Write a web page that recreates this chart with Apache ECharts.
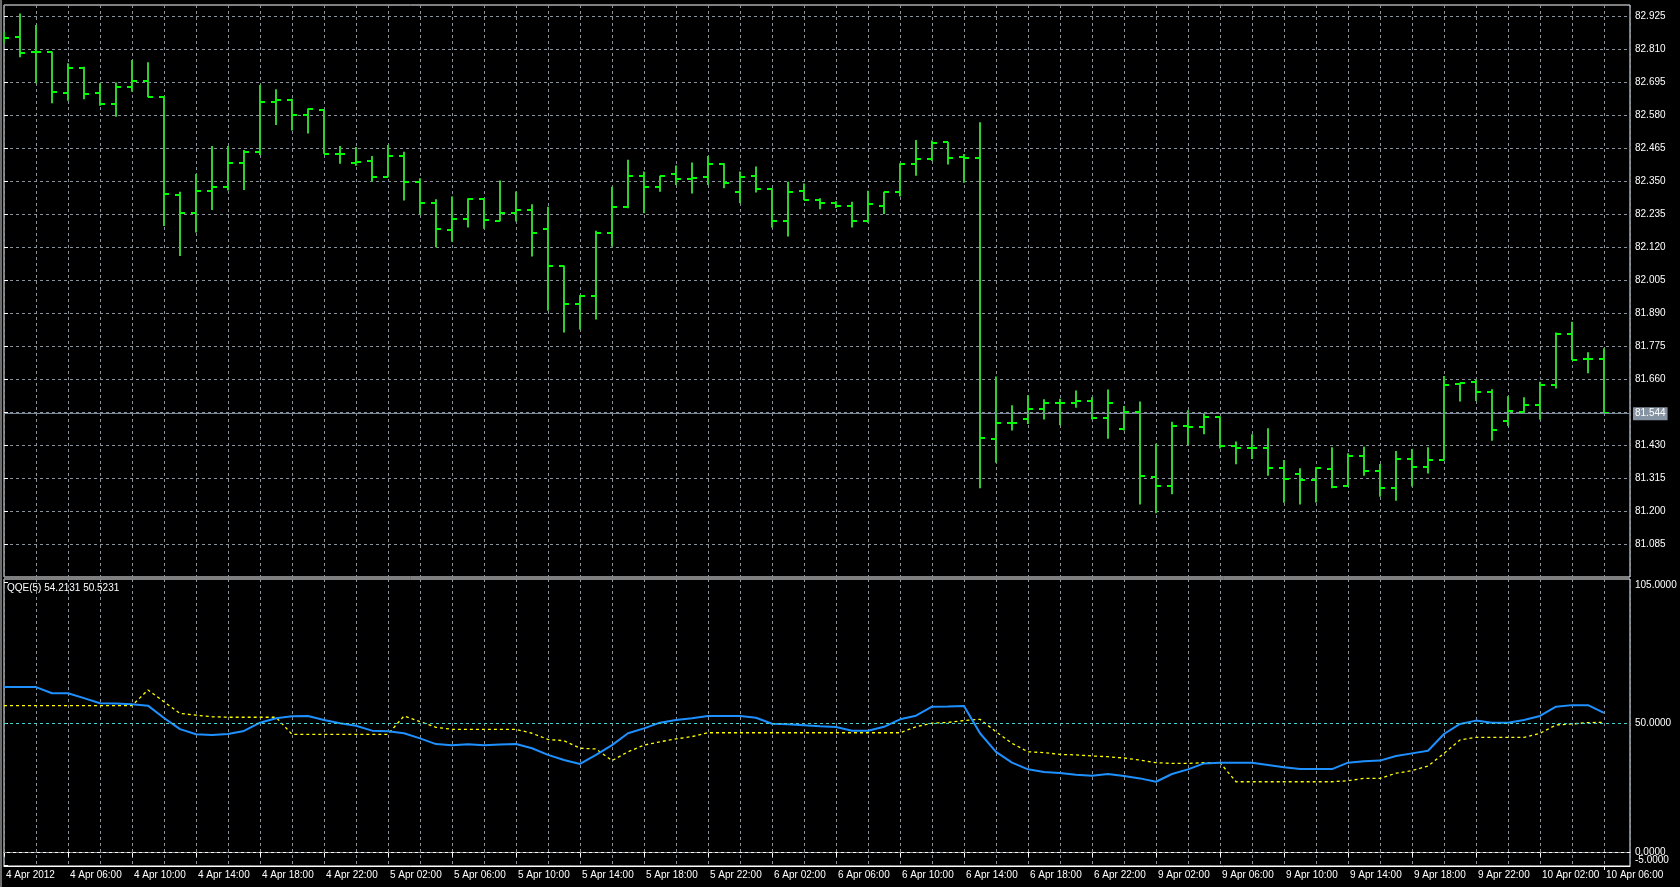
<!DOCTYPE html>
<html><head><meta charset="utf-8">
<script src="https://cdn.jsdelivr.net/npm/echarts@6/dist/echarts.min.js"></script>
<style>html,body{margin:0;padding:0;background:#000;overflow:hidden}#c{width:1680px;height:887px}</style>
</head><body><div id="c"></div><script>
// ---- data ----
const xLabels = ['4 Apr 2012','4 Apr 06:00','4 Apr 10:00','4 Apr 14:00','4 Apr 18:00','4 Apr 22:00',
  '5 Apr 02:00','5 Apr 06:00','5 Apr 10:00','5 Apr 14:00','5 Apr 18:00','5 Apr 22:00',
  '6 Apr 02:00','6 Apr 06:00','6 Apr 10:00','6 Apr 14:00','6 Apr 18:00','6 Apr 22:00',
  '9 Apr 02:00','9 Apr 06:00','9 Apr 10:00','9 Apr 14:00','9 Apr 18:00','9 Apr 22:00',
  '10 Apr 02:00','10 Apr 06:00'];
const barsPerLabel = 4;
const priceTicks = [82.925,82.810,82.695,82.580,82.465,82.350,82.235,82.120,82.005,81.890,81.775,81.660,81.545,81.430,81.315,81.200,81.085];
const priceLabels = [82.925,82.810,82.695,82.580,82.465,82.350,82.235,82.120,82.005,81.890,81.775,81.660,81.430,81.315,81.200,81.085];
const qqeTicks = [105, 50, 0];
const qqeLowTick = [-5];
const bidPrice = 81.544;

const open = [82.850,82.853,82.798,82.801,82.658,82.745,82.657,82.619,82.679,82.700,
  82.644,82.302,82.240,82.317,82.331,82.414,82.452,82.627,82.632,82.580,
  82.596,82.444,82.414,82.421,82.365,82.437,82.348,82.273,82.180,82.219,
  82.289,82.212,82.240,82.249,82.182,82.054,81.922,81.951,82.170,82.261,
  82.369,82.331,82.374,82.357,82.365,82.410,82.313,82.369,82.322,82.212,
  82.317,82.284,82.273,82.263,82.212,82.263,82.313,82.408,82.427,82.485,
  82.435,82.432,81.453,81.509,81.520,81.557,81.578,81.578,81.585,81.526,
  81.488,81.546,81.321,81.289,81.497,81.495,81.529,81.428,81.421,81.421,
  81.352,81.329,81.309,81.347,81.289,81.393,81.341,81.282,81.382,81.355,
  81.379,81.643,81.651,81.616,81.516,81.545,81.570,81.640,81.816,81.729,
  81.730];
const high = [82.870,82.934,82.894,82.801,82.760,82.748,82.691,82.693,82.772,82.764,
  82.646,82.313,82.375,82.472,82.472,82.458,82.685,82.670,82.637,82.603,
  82.598,82.472,82.469,82.437,82.476,82.452,82.360,82.287,82.296,82.290,
  82.291,82.352,82.314,82.269,82.261,82.056,81.953,82.177,82.330,82.424,
  82.383,82.369,82.404,82.415,82.437,82.412,82.383,82.401,82.325,82.348,
  82.342,82.290,82.280,82.278,82.316,82.313,82.412,82.493,82.491,82.487,
  82.444,82.555,81.669,81.569,81.604,81.590,81.592,81.621,81.597,81.624,
  81.567,81.582,81.435,81.512,81.552,81.539,81.531,81.443,81.468,81.489,
  81.379,81.350,81.353,81.423,81.402,81.425,81.365,81.410,81.417,81.423,
  81.671,81.648,81.660,81.625,81.601,81.597,81.651,81.823,81.860,81.754,
  81.768];
const low = [82.830,82.781,82.691,82.621,82.630,82.635,82.612,82.574,82.661,82.642,
  82.194,82.089,82.171,82.249,82.317,82.319,82.441,82.545,82.526,82.516,
  82.445,82.410,82.403,82.348,82.363,82.282,82.232,82.120,82.139,82.188,
  82.184,82.210,82.209,82.087,81.898,81.823,81.833,81.868,82.122,82.255,
  82.238,82.313,82.336,82.307,82.336,82.325,82.273,82.310,82.188,82.157,
  82.284,82.252,82.256,82.188,82.205,82.235,82.296,82.369,82.420,82.408,
  82.344,81.280,81.369,81.481,81.504,81.520,81.500,81.561,81.520,81.453,
  81.481,81.224,81.193,81.259,81.431,81.468,81.419,81.364,81.382,81.324,
  81.230,81.224,81.231,81.280,81.286,81.324,81.251,81.237,81.286,81.332,
  81.377,81.582,81.584,81.446,81.497,81.543,81.520,81.628,81.727,81.681,
  81.541];
const close = [82.849,82.797,82.801,82.661,82.745,82.653,82.619,82.679,82.700,82.644,
  82.305,82.240,82.317,82.331,82.414,82.452,82.627,82.632,82.580,82.600,
  82.444,82.444,82.418,82.365,82.437,82.348,82.273,82.182,82.219,82.289,
  82.214,82.240,82.249,82.170,82.054,81.922,81.951,82.170,82.261,82.369,
  82.331,82.369,82.357,82.362,82.410,82.344,82.365,82.322,82.212,82.313,
  82.284,82.273,82.263,82.212,82.269,82.313,82.408,82.427,82.484,82.432,
  82.432,81.456,81.509,81.509,81.557,81.578,81.578,81.585,81.526,81.578,
  81.546,81.324,81.289,81.497,81.495,81.529,81.428,81.421,81.421,81.352,
  81.311,81.309,81.350,81.283,81.393,81.341,81.282,81.382,81.355,81.379,
  81.640,81.646,81.616,81.483,81.550,81.570,81.640,81.816,81.727,81.729,
  81.544];
const qqe = [64.2,64.2,64.2,61.8,61.8,59.9,57.9,57.8,57.5,57.0,
  52.2,47.9,45.9,45.6,46.0,47.2,50.4,52.1,52.9,53.0,
  51.4,50.2,49.2,47.3,47.1,46.3,44.3,42.1,41.6,42.0,
  41.6,41.9,42.1,40.5,37.9,35.9,34.4,37.9,41.7,46.3,
  48.2,50.4,51.4,52.1,53.0,53.0,53.0,52.3,50.0,49.8,
  49.4,49.0,48.7,47.3,47.3,48.8,51.7,53.1,56.6,56.7,
  56.9,46.3,39.1,34.9,32.3,31.3,30.9,30.2,29.8,30.5,
  29.7,28.8,27.5,30.5,32.3,34.6,34.9,34.9,34.9,34.0,
  33.1,32.4,32.4,32.4,34.9,35.4,35.7,37.5,38.5,39.5,
  46.0,49.9,51.2,50.4,50.4,51.4,53.0,56.6,57.2,57.2,
  54.2131];
const signal = [57.0,57.0,57.0,57.0,57.0,57.0,57.0,57.0,57.0,63.1,
  58.5,54.0,53.3,52.7,52.5,52.5,52.5,52.5,45.9,45.9,
  45.9,45.9,45.9,45.9,45.9,53.0,50.8,48.6,47.8,47.8,
  47.8,47.8,47.8,46.3,43.9,43.4,40.5,40.2,35.7,39.1,
  41.7,43.0,44.1,45.0,46.5,46.5,46.5,46.5,46.5,46.5,
  46.5,46.5,46.5,46.5,46.5,46.5,46.5,48.8,50.2,50.5,
  51.2,51.7,46.9,42.4,39.1,38.8,38.1,37.9,37.5,37.2,
  36.7,35.9,34.9,34.6,34.6,34.9,34.9,27.5,27.5,27.5,
  27.5,27.5,27.5,27.5,27.9,28.8,28.8,30.8,31.8,33.6,
  38.5,43.7,44.7,44.7,44.7,44.7,46.3,49.5,49.9,50.4,
  50.5231];

// ---- build ----
const FONT = "'Liberation Sans',Arial,sans-serif";
const FS = 10;
const GRIDCOL = '#8a929c';
const ohlc = open.map((o, i) => [i, o, high[i], low[i], close[i]]);
const qqeData = qqe.map((v, i) => [i, v]);
const sigData = signal.map((v, i) => [i, v]);
const xMax = 101.625;
const labelPos = xLabels.map((_, i) => i * barsPerLabel);
const lastLabelPos = labelPos.slice(-1);
const mainLabelPos = labelPos.slice(0, -1);
const txt = {color: '#fff', fontFamily: FONT, fontSize: FS};

function xLabelAxis(values) {
  return {gridIndex: 1, type: 'value', min: 0, max: xMax, position: 'bottom',
    axisLine: {show: true, lineStyle: {color: '#fff'}},
    axisTick: {show: true, length: 4, customValues: values, lineStyle: {color: '#fff'}},
    axisLabel: Object.assign({show: true, customValues: values, align: 'left', margin: 4,
      showMinLabel: true, showMaxLabel: true, padding: [0, 0, 0, 2],
      formatter: v => xLabels[Math.round(v / barsPerLabel)] || ''}, txt),
    splitLine: {show: false}};
}
function qqeAxis(values, fmt) {
  return {gridIndex: 1, type: 'value', position: 'right', min: -5.16, max: 106.09,
    axisLine: {show: false},
    axisTick: {show: true, length: 4, customValues: values, lineStyle: {color: '#fff'}},
    axisLabel: Object.assign({show: true, customValues: values, margin: 5, showMinLabel: true, showMaxLabel: true,
      formatter: fmt,
      rich: {t: Object.assign({padding: [6, 0, 0, 0]}, txt), b: Object.assign({padding: [0, 0, 10, 0]}, txt)}}, txt),
    splitLine: {show: false}};
}

const chart = echarts.init(document.getElementById('c'), null, {renderer: 'canvas'});
chart.setOption({
  animation: false,
  backgroundColor: '#000',
  grid: [
    {left: 4, top: 5, width: 1626, height: 572, show: true, borderColor: '#ffffff', borderWidth: 1, backgroundColor: '#000'},
    {left: 4, top: 579, width: 1626, height: 287, show: true, borderColor: '#ffffff', borderWidth: 1, backgroundColor: '#000'}
  ],
  xAxis: [
    {gridIndex: 0, type: 'value', min: 0, max: xMax, interval: 2,
      axisLine: {show: false}, axisTick: {show: false}, axisLabel: {show: false},
      splitLine: {show: true, lineStyle: {color: GRIDCOL, type: [3, 3], width: 1}}},
    {gridIndex: 1, type: 'value', min: 0, max: xMax, interval: 2,
      axisLine: {show: false}, axisTick: {show: false}, axisLabel: {show: false},
      splitLine: {show: true, lineStyle: {color: GRIDCOL, type: [3, 3], width: 1}}},
    xLabelAxis(mainLabelPos),
    xLabelAxis(lastLabelPos)
  ],
  yAxis: [
    {gridIndex: 0, type: 'value', position: 'right', min: 80.9711, max: 82.9633, scale: true,
      axisLine: {show: false},
      axisTick: {show: true, length: 4, customValues: priceTicks, lineStyle: {color: '#fff'}},
      axisLabel: Object.assign({show: true, customValues: priceLabels, margin: 5,
        showMinLabel: true, showMaxLabel: true, formatter: v => v.toFixed(3)}, txt),
      splitLine: {show: true, lineStyle: {color: GRIDCOL, type: [3, 3], width: 1}}},
    qqeAxis(qqeTicks, v => v === qqeTicks[0] ? '{t|' + v.toFixed(4) + '}' : v.toFixed(4)),
    qqeAxis(qqeLowTick, v => '{b|' + v.toFixed(4) + '}')
  ],
  series: [
    {type: 'custom', name: 'USDJPY', xAxisIndex: 0, yAxisIndex: 0, data: ohlc, clip: true,
      encode: {x: 0, y: [1, 2, 3, 4]},
      renderItem: function (params, api) {
        const x = api.value(0);
        const o = api.coord([x, api.value(1)]);
        const h = api.coord([x, api.value(2)]);
        const l = api.coord([x, api.value(3)]);
        const c = api.coord([x, api.value(4)]);
        const px = Math.round(o[0]);
        return {type: 'group', children: [
          {type: 'line', shape: {x1: px, y1: h[1], x2: px, y2: l[1]}, style: {stroke: '#32cd32', lineWidth: 2}},
          {type: 'line', shape: {x1: px - 5, y1: Math.round(o[1]), x2: px, y2: Math.round(o[1])}, style: {stroke: '#00ff00', lineWidth: 2}},
          {type: 'line', shape: {x1: px, y1: Math.round(c[1]), x2: px + 5, y2: Math.round(c[1])}, style: {stroke: '#00ff00', lineWidth: 2}}
        ]};
      },
      markLine: {silent: true, symbol: ['none', 'none'], animation: false,
        lineStyle: {color: '#778899', type: 'solid', width: 1},
        label: {show: true, position: 'end', distance: 3, formatter: () => bidPrice.toFixed(3),
          backgroundColor: '#8593a2', color: '#fff', padding: [2, 2, 1, 2], fontFamily: FONT, fontSize: FS},
        data: [{yAxis: bidPrice}]}
    },
    {type: 'line', name: 'QQE', xAxisIndex: 2, yAxisIndex: 1, data: qqeData, symbol: 'none', z: 4,
      lineStyle: {color: '#1e90ff', width: 2},
      markLine: {silent: true, symbol: ['none', 'none'], animation: false, label: {show: false},
        data: [
          {yAxis: 50, lineStyle: {color: '#48d1cc', type: [3, 3], width: 1}},
          {yAxis: 0, lineStyle: {color: '#8c8c8c', type: [3, 3], width: 1}}
        ]}
    },
    {type: 'line', name: 'Signal', xAxisIndex: 2, yAxisIndex: 1, data: sigData, symbol: 'none', z: 3,
      lineStyle: {color: '#ffff00', width: 1.3, type: [3, 3]}}
  ],
  graphic: [
    {type: 'rect', left: 0, top: 0, shape: {width: 2, height: 887}, style: {fill: '#6e6e6e'}, silent: true},
    {type: 'text', left: 7, top: 583, z: 10, silent: true,
      style: {text: 'QQE(5) ' + qqe[qqe.length - 1].toFixed(4) + ' ' + signal[signal.length - 1].toFixed(4),
        fill: '#fff', font: FS + 'px ' + FONT}}
  ]
});
</script></body></html>
